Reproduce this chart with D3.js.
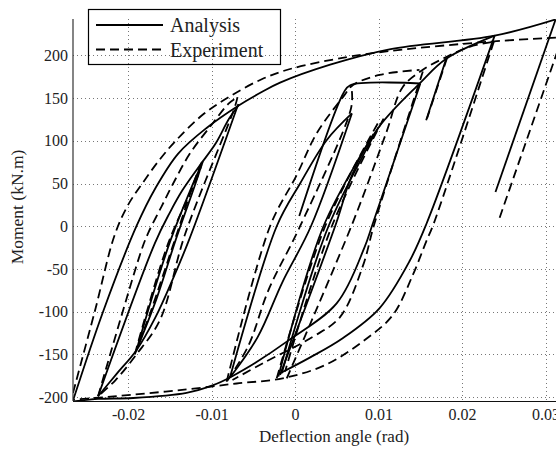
<!DOCTYPE html>
<html>
<head>
<meta charset="utf-8">
<script src="https://cdn.jsdelivr.net/npm/d3@7/dist/d3.min.js"></script>
<style>
  body { margin: 0; background: #fff; }
  svg { display: block; }
</style>
</head>
<body>
<div id="chart"></div>
<script>
// tick values
const xTicks = [-0.02, -0.01, 0, 0.01, 0.02, 0.03];
const yTicks = [-200, -150, -100, -50, 0, 50, 100, 150, 200];

// Analysis branches, [deflection angle (rad), moment (kN.m)]
const anaEnvelopeUp = [[-0.0266,-204],[-0.0230,-100],[-0.0190,0],[-0.0167,45],[-0.0140,85],[-0.0106,115],[-0.0068,141],[-0.0040,157],[-0.0018,168],[0.0042,189],[0.0113,207],[0.0239,223],[0.0312,242]];
const anaReloadN4 = [[-0.0236,-199],[-0.0168,-20],[-0.0150,16],[-0.0135,42],[-0.0115,70],[-0.0095,97],[-0.0079,126],[-0.0068,141]];
const anaUnloadPL1 = [[-0.0068,143],[-0.0127,-16],[-0.0147,-63],[-0.0167,-106],[-0.0190,-145],[-0.0214,-173],[-0.0236,-199]];
const anaSmallLoopL = [[-0.0190,-145],[-0.0149,-16],[-0.0112,72],[-0.0120,48],[-0.0143,-16],[-0.0166,-85],[-0.0190,-145]];
const anaBottom = [[-0.0078,-177],[-0.0098,-186],[-0.0130,-195],[-0.0194,-201],[-0.0236,-202],[-0.0266,-205]];
const anaReloadN2 = [[-0.0078,-177],[-0.0022,0],[0.0006,50],[0.0038,101],[0.0068,132]];
const anaUnloadP1 = [[0.0068,132],[0.0019,0],[-0.0015,-65],[-0.0045,-130],[-0.0078,-177]];
const anaPlateau = [[0.0005,12],[0.0058,156],[0.0066,165],[0.0150,167]];
const anaUnloadP2 = [[0.0150,167],[0.0093,3],[0.0083,-25],[0.0050,-90],[-0.0010,-135],[-0.0048,-160],[-0.0078,-177]];
const anaReloadN1 = [[-0.0018,-174],[0.0049,3],[0.0069,62],[0.0101,117],[0.0149,167],[0.0181,196],[0.0239,223]];
const anaCluster1 = [[0.0100,116],[0.0040,0],[-0.0016,-172]];
const anaCluster2 = [[0.0094,108],[0.0034,0],[-0.0020,-176]];
const anaUnloadP4 = [[0.0239,223],[0.0157,2],[0.0137,-41],[0.0101,-96],[0.0057,-131],[0.0017,-154],[-0.0018,-172]];
const anaP3Drop = [[0.0181,196],[0.0157,124]];
const anaUnloadP5 = [[0.0312,242],[0.0240,40]];

// Experiment branches
const expEnvelopeUp = [[-0.0266,-195],[-0.0240,-100],[-0.0216,-10],[-0.0200,25],[-0.0183,50],[-0.0163,77],[-0.0143,100],[-0.0110,131],[-0.0078,152],[-0.0040,172],[-0.0006,184],[0.0062,198],[0.0113,205],[0.0233,216],[0.0320,221]];
const expReloadN4 = [[-0.0236,-199],[-0.0184,-28],[-0.0176,-8],[-0.0160,23],[-0.0146,50],[-0.0126,85],[-0.0099,120],[-0.0079,144],[-0.0069,151]];
const expUnloadPL1 = [[-0.0069,151],[-0.0072,140],[-0.0132,-10],[-0.0162,-110],[-0.0190,-150],[-0.0215,-180],[-0.0236,-199]];
const expSmallLoopL = [[-0.0192,-150],[-0.0152,-20],[-0.0116,60],[-0.0110,78],[-0.0116,65],[-0.0142,-10],[-0.0173,-100],[-0.0192,-150]];
const expReloadN2 = [[-0.0082,-182],[-0.0030,0],[0.0002,60],[0.0026,109],[0.0058,152],[0.0069,165],[0.0101,177],[0.0149,183]];
const expUnloadP1 = [[0.0068,158],[0.0067,138],[0.0006,0],[-0.0032,-75],[-0.0056,-140],[-0.0082,-182]];
const expUnloadP2 = [[0.0153,181],[0.0095,3],[0.0081,-47],[0.0054,-106],[0.0022,-129],[-0.0038,-160],[-0.0075,-180]];
const expReloadN1 = [[-0.0010,-178],[0.0069,4],[0.0109,109],[0.0129,163],[0.0153,183],[0.0181,198],[0.0209,210],[0.0238,216]];
const expCluster1 = [[-0.0022,-178],[0.0036,0],[0.0100,122]];
const expCluster2 = [[0.0106,126],[0.0044,0],[-0.0012,-170]];
const expP3Drop = [[0.0182,197],[0.0158,126]];
const expUnloadP4 = [[0.0238,216],[0.0166,3],[0.0157,-18],[0.0141,-57],[0.0117,-104],[0.0085,-132],[0.0037,-162],[-0.0015,-178],[-0.0070,-184],[-0.0130,-191],[-0.0194,-197],[-0.0240,-201],[-0.0266,-203]];
const expUnloadP5 = [[0.0320,221],[0.0245,10]];

const analysisSeries = [anaEnvelopeUp, anaReloadN4, anaUnloadPL1, anaSmallLoopL, anaBottom, anaReloadN2, anaUnloadP1,
  anaPlateau, anaUnloadP2, anaReloadN1, anaCluster1, anaCluster2, anaUnloadP4, anaP3Drop, anaUnloadP5];
const experimentSeries = [expEnvelopeUp, expReloadN4, expUnloadPL1, expSmallLoopL, expReloadN2, expUnloadP1,
  expUnloadP2, expReloadN1, expCluster1, expCluster2, expP3Drop, expUnloadP4, expUnloadP5];

const W = 556, H = 450;
const plotLeft = 73, plotTop = 19, plotBottom = 401;

const x = d3.scaleLinear().domain([-0.0266, 0.0318]).range([plotLeft, 560.6]);
const y = d3.scaleLinear().domain([-204.5, 242.5]).range([plotBottom, plotTop]);

const svg = d3.select('#chart').append('svg')
    .attr('width', W)
    .attr('height', H)
    .style('font-family', '"Liberation Serif", "Times New Roman", serif');

svg.append('clipPath').attr('id', 'plot-clip')
  .append('rect')
    .attr('x', plotLeft).attr('y', plotTop)
    .attr('width', x.range()[1] - plotLeft).attr('height', plotBottom - plotTop);

// grid
const grid = svg.append('g').attr('stroke', '#777').attr('stroke-width', 1).attr('stroke-dasharray', '1,3');
grid.selectAll('.gx').data(xTicks).enter().append('line')
    .attr('x1', d => Math.round(x(d)) + 0.5).attr('x2', d => Math.round(x(d)) + 0.5)
    .attr('y1', plotTop).attr('y2', plotBottom);
grid.selectAll('.gy').data(yTicks).enter().append('line')
    .attr('x1', plotLeft).attr('x2', x.range()[1])
    .attr('y1', d => Math.round(y(d)) + 0.5).attr('y2', d => Math.round(y(d)) + 0.5);

// curves
const line = d3.line()
    .x(d => x(d[0]))
    .y(d => y(d[1]))
    .curve(d3.curveCatmullRom.alpha(0.5));

const curves = svg.append('g').attr('clip-path', 'url(#plot-clip)')
    .attr('fill', 'none').attr('stroke', '#000').attr('stroke-width', 1.8)
    .attr('stroke-linejoin', 'round');

curves.selectAll('.exp').data(experimentSeries).enter().append('path')
    .attr('stroke-dasharray', '9,5')
    .attr('d', line);

curves.selectAll('.ana').data(analysisSeries).enter().append('path')
    .attr('d', line);

// axes
const xAxis = svg.append('g')
    .attr('transform', `translate(0,${plotBottom})`)
    .call(d3.axisBottom(x).tickValues(xTicks).tickSize(0).tickPadding(8)
      .tickFormat(d => d === 0 ? '0' : d.toFixed(2)));
const yAxis = svg.append('g')
    .attr('transform', `translate(${plotLeft},0)`)
    .call(d3.axisLeft(y).tickValues(yTicks).tickSize(0).tickPadding(5)
      .tickFormat(d => String(d)));

[xAxis, yAxis].forEach(g => {
  g.select('.domain').remove();
  g.selectAll('text')
    .attr('fill', '#222')
    .style('font-family', '"Liberation Serif", "Times New Roman", serif')
    .style('font-size', '16px');
});

svg.append('line')
    .attr('x1', plotLeft).attr('x2', plotLeft).attr('y1', plotTop).attr('y2', plotBottom)
    .attr('stroke', '#333').attr('stroke-width', 1.2);
svg.append('line')
    .attr('x1', plotLeft).attr('x2', W).attr('y1', plotBottom + 0.5).attr('y2', plotBottom + 0.5)
    .attr('stroke', '#111').attr('stroke-width', 1.2);

// axis titles
svg.append('text')
    .attr('x', 334).attr('y', 442)
    .attr('text-anchor', 'middle')
    .attr('fill', '#222')
    .style('font-size', '17px')
    .text('Deflection angle (rad)');

svg.append('text')
    .attr('transform', 'translate(23,207) rotate(-90)')
    .attr('text-anchor', 'middle')
    .attr('fill', '#222')
    .style('font-size', '17.5px')
    .text('Moment (kN.m)');

// legend
const legend = svg.append('g');
legend.append('rect')
    .attr('x', 88.5).attr('y', 9.5).attr('width', 192).attr('height', 55)
    .attr('fill', 'none').attr('stroke', '#000').attr('stroke-width', 1.2);
const legendItems = [
  {label: 'Analysis', dash: null, y: 25},
  {label: 'Experiment', dash: '9,5', y: 49.5}
];
legendItems.forEach(item => {
  legend.append('line')
      .attr('x1', 96).attr('x2', 163).attr('y1', item.y).attr('y2', item.y)
      .attr('stroke', '#000').attr('stroke-width', 1.8)
      .attr('stroke-dasharray', item.dash);
  legend.append('text')
      .attr('x', 170).attr('y', item.y + 7)
      .attr('fill', '#222')
      .style('font-size', '20px')
      .text(item.label);
});
</script>
</body>
</html>
